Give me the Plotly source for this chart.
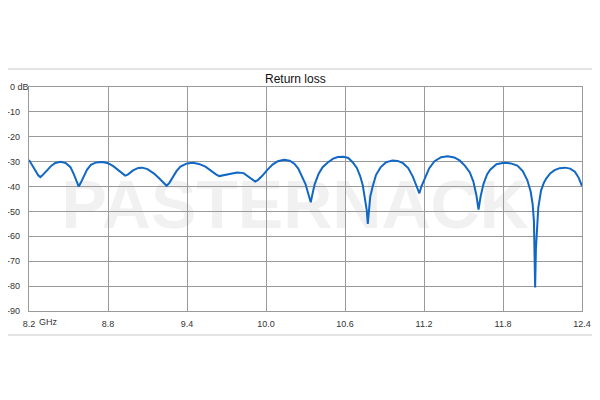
import plotly.graph_objects as go

# ---- data ----
freq_ghz = [
    8.200, 8.243, 8.270, 8.286, 8.300, 8.332, 8.370, 8.400, 8.440, 8.480,
    8.515, 8.540, 8.560, 8.578, 8.595, 8.615, 8.640, 8.670, 8.710, 8.760,
    8.800, 8.840, 8.880, 8.910, 8.930, 8.950, 8.990, 9.030, 9.060, 9.100,
    9.150, 9.190, 9.220, 9.245, 9.265, 9.290, 9.320, 9.350, 9.400, 9.445,
    9.490, 9.540, 9.580, 9.620, 9.645, 9.680, 9.730, 9.780, 9.830, 9.870,
    9.900, 9.918, 9.940, 9.970, 10.010, 10.050, 10.090, 10.137, 10.180, 10.215,
    10.245, 10.275, 10.300, 10.327, 10.340, 10.355, 10.370, 10.400, 10.430, 10.467,
    10.510, 10.545, 10.590, 10.625, 10.660, 10.690, 10.715, 10.735, 10.752, 10.765,
    10.773, 10.780, 10.792, 10.810, 10.835, 10.870, 10.910, 10.960, 11.000, 11.040,
    11.080, 11.115, 11.145, 11.165, 11.180, 11.205, 11.240, 11.280, 11.330, 11.380,
    11.430, 11.470, 11.510, 11.548, 11.575, 11.598, 11.614, 11.630, 11.652, 11.680,
    11.703, 11.750, 11.806, 11.860, 11.909, 11.950, 11.985, 12.010, 12.025, 12.035,
    12.040, 12.044, 12.050, 12.057, 12.068, 12.089, 12.110, 12.128, 12.160, 12.192,
    12.230, 12.270, 12.310, 12.346, 12.375, 12.400,
]
return_loss_db = [
    -29.3, -33.3, -35.5, -36.2, -35.6, -33.8, -31.6, -30.5, -30.0, -30.6,
    -32.2, -35.0, -37.5, -40.0, -38.3, -36.0, -33.3, -31.3, -30.3, -30.1,
    -30.6, -31.8, -33.6, -35.0, -35.6, -35.2, -33.5, -32.5, -32.4, -33.0,
    -34.8, -36.8, -38.6, -39.7, -38.6, -36.5, -33.8, -32.0, -30.7, -30.4,
    -30.9, -32.0, -33.6, -35.1, -35.8, -35.4, -34.7, -34.4, -34.6, -36.0,
    -37.3, -38.0, -37.3, -35.8, -33.3, -31.2, -29.8, -29.2, -29.6, -30.8,
    -32.8, -36.0, -39.0, -44.0, -46.3, -42.5, -39.0, -34.8, -32.2, -30.4,
    -28.8, -28.1, -28.0, -28.5, -30.3, -32.5, -35.8, -39.5, -44.5, -49.5,
    -55.0, -49.5, -44.0, -40.0, -35.4, -32.3, -30.3, -29.5, -29.7, -30.6,
    -32.6, -36.0, -40.0, -42.7, -40.0, -36.8, -32.6, -29.8, -28.2, -27.8,
    -28.3, -29.5, -31.6, -34.3, -38.0, -43.5, -49.3, -44.0, -38.9, -35.0,
    -33.2, -31.0, -30.4, -30.7, -31.6, -33.8, -37.5, -42.0, -47.0, -54.0,
    -65.0, -80.5, -65.0, -56.0, -48.5, -41.6, -38.5, -36.8, -34.6, -33.4,
    -32.6, -32.4, -32.8, -34.0, -36.5, -39.8,
]
x_tick_vals = [8.2, 8.8, 9.4, 10.0, 10.6, 11.2, 11.8, 12.4]
x_tick_text = ["8.2", "8.8", "9.4", "10.0", "10.6", "11.2", "11.8", "12.4"]
y_tick_vals = [0, -10, -20, -30, -40, -50, -60, -70, -80, -90]
y_tick_text = ["0 dB", "-10", "-20", "-30", "-40", "-50", "-60", "-70", "-80", "-90"]
title_text = "Return loss"
unit_text = "GHz"
watermark_text = "PASTERNACK"

# ---- layout geometry (screen pixels of the reference) ----
W, H = 600, 400
OFF = 8  # page body margin offsets the figure by 8px
SL, SR, ST, SB = 29, 581.7, 87, 311          # plot area on screen
PL, PR, PT, PB = SL - OFF, SR - OFF, ST - OFF, SB - OFF  # in figure coords


def px_x(sx):
    return (sx - SL) / (SR - SL)


def px_y(sy):
    return (SB - sy) / (SB - ST)


FONT = "Liberation Sans, Arial, sans-serif"
GRID = "#9a9a9a"
TICK_FONT = dict(family=FONT, size=9, color="#333333")

fig = go.Figure()
fig.add_trace(go.Scatter(
    x=freq_ghz, y=return_loss_db, mode="lines",
    line=dict(color="#1167c4", width=2),
    hoverinfo="skip", showlegend=False, cliponaxis=False,
))

# the top label ("0 dB") is wider than the room left of the axis, so it is
# placed as a left-anchored annotation; the others are normal tick labels
y_axis_text = [""] + y_tick_text[1:]

fig.update_layout(
    width=W, height=H,
    margin=dict(l=PL, r=W - PR, t=PT, b=H - PB, pad=0, autoexpand=False),
    paper_bgcolor="white", plot_bgcolor="white",
    showlegend=False,
    xaxis=dict(
        range=[8.2, 12.4], tickvals=x_tick_vals, ticktext=x_tick_text,
        showgrid=True, gridcolor=GRID, gridwidth=1.3,
        showline=True, linecolor=GRID, linewidth=1.3, mirror=True,
        zeroline=False, ticks="", ticklabelstandoff=4, automargin=False,
        tickfont=TICK_FONT,
    ),
    yaxis=dict(
        range=[-90, 0], tickvals=y_tick_vals, ticktext=y_axis_text,
        showgrid=True, gridcolor=GRID, gridwidth=1.3,
        showline=True, linecolor=GRID, linewidth=1.3, mirror=True,
        zeroline=False, ticks="", ticklabelstandoff=6, automargin=False,
        tickfont=TICK_FONT,
    ),
    shapes=[
        # outer chart frame
        dict(type="rect", xref="paper", yref="paper",
             x0=px_x(3), x1=px_x(597), y0=px_y(335), y1=px_y(69),
             line=dict(color="#c8c8c8", width=1), fillcolor="rgba(0,0,0,0)",
             layer="below"),
        # watermark (drawn below grid and trace)
        dict(type="rect", xref="paper", yref="paper",
             x0=px_x(40), x1=px_x(550), y0=px_y(232), y1=px_y(164),
             line=dict(width=0), fillcolor="rgba(0,0,0,0)", layer="below",
             label=dict(text=watermark_text, textposition="middle center",
                        font=dict(family=FONT, size=68, color="#f1f1f1",
                                  weight="bold"))),
    ],
    annotations=[
        dict(text=title_text, xref="paper", yref="paper",
             x=px_x(295), y=px_y(79), xanchor="center", yanchor="middle",
             showarrow=False, font=dict(family=FONT, size=12, color="#111111")),
        dict(text=y_tick_text[0], xref="paper", yref="y",
             x=px_x(9), y=y_tick_vals[0], xanchor="left", yanchor="middle",
             xshift=0, showarrow=False, borderpad=0, font=TICK_FONT),
        dict(text=unit_text, xref="paper", yref="paper",
             x=px_x(48), y=px_y(322), xanchor="center", yanchor="middle",
             showarrow=False, font=TICK_FONT),
    ],
)

fig.write_html("out.html")
